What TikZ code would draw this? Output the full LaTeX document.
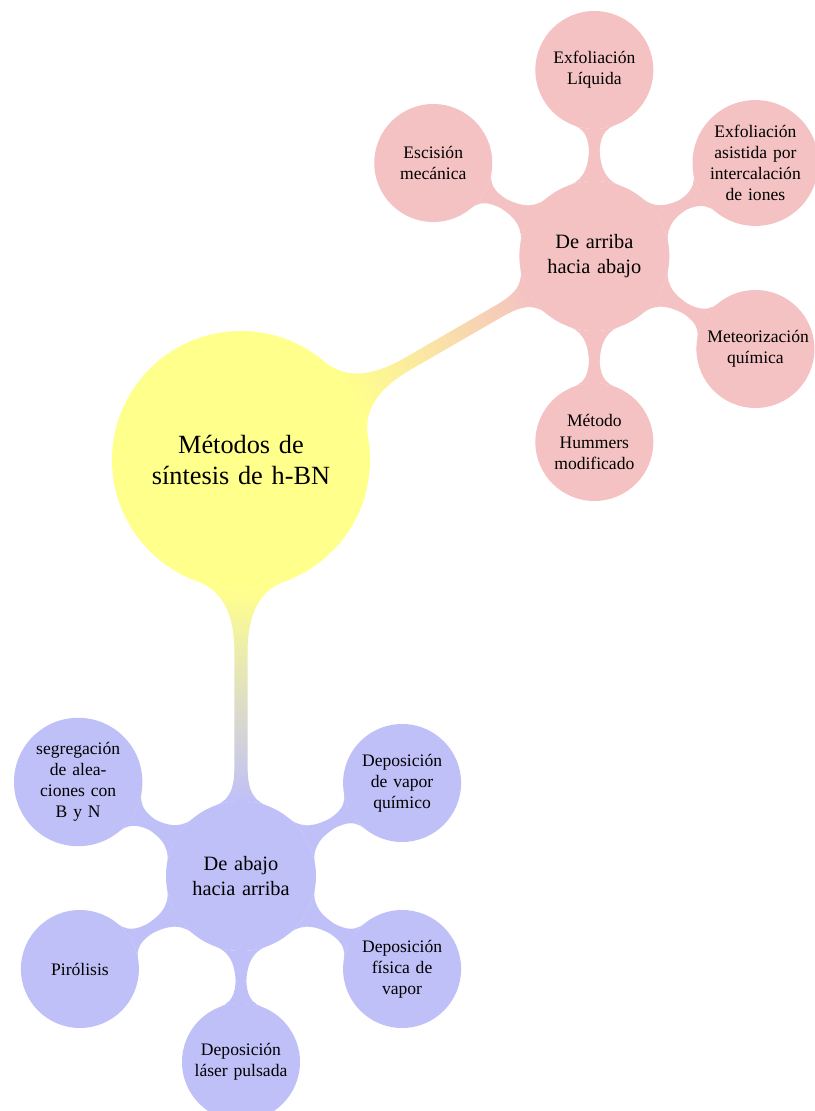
\documentclass[tikz,border=0pt]{standalone}
\usepackage{fontspec}
\setmainfont{Liberation Serif}[WordSpace=1.25]
\usetikzlibrary{mindmap,calc}
\definecolor{rootc}{RGB}{255,255,140}
\definecolor{topc}{RGB}{244,194,194}
\definecolor{botc}{RGB}{192,192,248}
\tikzset{
  idea/.style={circle, inner sep=1pt, align=center, text=black},
  rootidea/.style={idea, fill=rootc, minimum size=6.45cm, text width=5cm,
    font=\fontsize{18.7}{22.5}\selectfont},
  midtop/.style={idea, fill=topc, minimum size=3.75cm, text width=3cm,
    font=\fontsize{14.5}{17.5}\selectfont},
  midbot/.style={midtop, fill=botc},
  leaftop/.style={idea, fill=topc, minimum size=2.95cm, text width=2.4cm,
    font=\fontsize{12.5}{15}\selectfont},
  leafbot/.style={leaftop, fill=botc},
}
\begin{document}
\begin{tikzpicture}[mindmap]
\useasboundingbox (-6.025,-16.275) rectangle (14.325,11.5);
\node[rootidea] (root) at (0,0) {Métodos de\\síntesis de h-BN};
\node[midtop] (top) at (30:10.2) {De arriba\\hacia abajo};
\node[midbot] (bot) at (-90:10.4) {De abajo\\hacia arriba};
% top children
\node[leaftop] (t1) at ($(top)+(150:4.65)$) {Escisión\\mecánica};
\node[leaftop] (t2) at ($(top)+(90:4.65)$) {Exfoliación\\Líquida};
\node[leaftop] (t3) at ($(top)+(30:4.65)$) {Exfoliación\\asistida por\\intercalación\\de iones};
\node[leaftop] (t4) at ($(top)+(-30:4.65)$) {Meteorización\\química};
\node[leaftop] (t5) at ($(top)+(-90:4.65)$) {Método\\Hummers\\modificado};
% bottom children
\node[leafbot] (b1) at ($(bot)+(150:4.7)$) {segregación\\de alea-\\ciones con\\B y N};
\node[leafbot] (b2) at ($(bot)+(30:4.65)$) {Deposición\\de vapor\\químico};
\node[leafbot] (b3) at ($(bot)+(210:4.65)$) {Pirólisis};
\node[leafbot] (b4) at ($(bot)+(-30:4.65)$) {Deposición\\física de\\vapor};
\node[leafbot] (b5) at ($(bot)+(-90:4.65)$) {Deposición\\láser pulsada};
% connections
\path (root) to[circle connection bar switch color=from (rootc) to (topc)] (top);
\path (root) to[circle connection bar switch color=from (rootc) to (botc)] (bot);
\foreach \n in {t1,t2,t3,t4,t5}
  \path (top) to[circle connection bar switch color=from (topc) to (topc)] (\n);
\foreach \n in {b1,b2,b3,b4,b5}
  \path (bot) to[circle connection bar switch color=from (botc) to (botc)] (\n);
\end{tikzpicture}
\end{document}
